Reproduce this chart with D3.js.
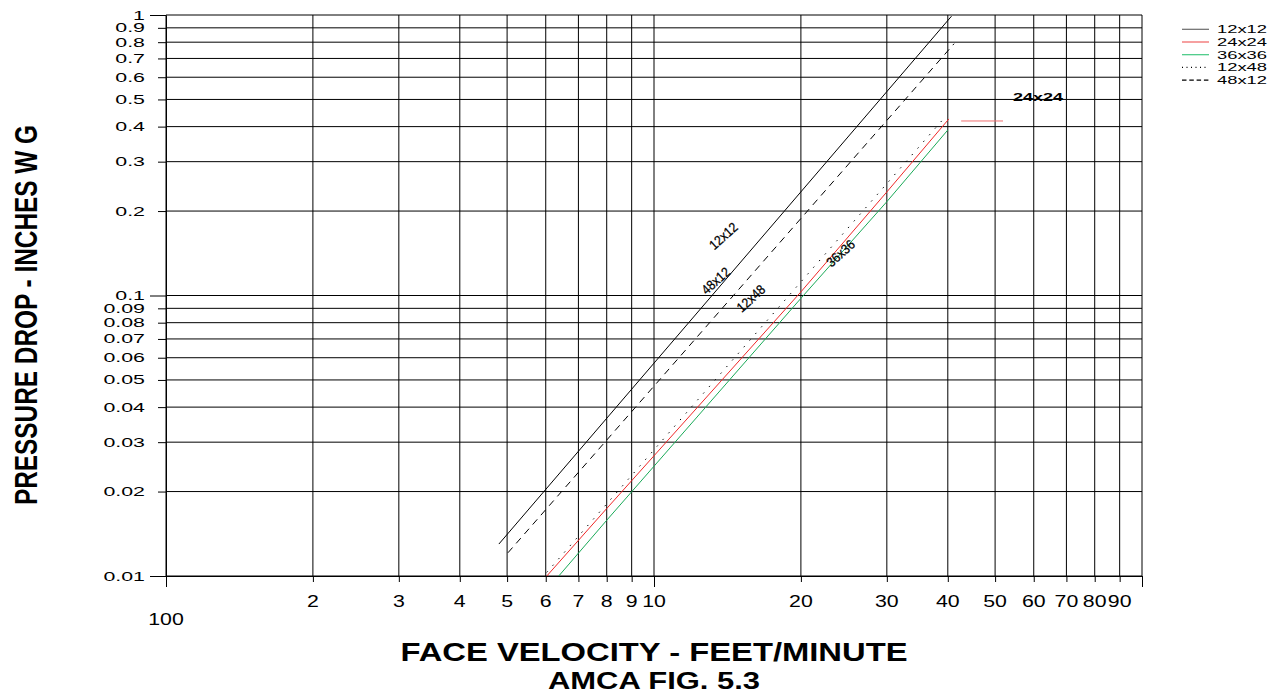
<!DOCTYPE html>
<html><head><meta charset="utf-8">
<script src="https://cdn.jsdelivr.net/npm/d3@7"></script>
<style>
body{margin:0;background:#fff;}
svg{display:block;}
text{font-family:"Liberation Sans",Arial,Helvetica,sans-serif;fill:#000;}
</style>
</head><body>
<svg id="c" width="1279" height="694"></svg>
<script>
// ---------- data ----------
const xTickValues=[1,2,3,4,5,6,7,8,9,10,20,30,40,50,60,70,80,90,100];
const xTickLabels=["100","2","3","4","5","6","7","8","9","10","20","30","40","50","60","70","80","90",""];
const yTickValues=[0.01,0.02,0.03,0.04,0.05,0.06,0.07,0.08,0.09,0.1,0.2,0.3,0.4,0.5,0.6,0.7,0.8,0.9,1];
const yTickLabels=["0.01","0.02","0.03","0.04","0.05","0.06","0.07","0.08","0.09","0.1","0.2","0.3","0.4","0.5","0.6","0.7","0.8","0.9","1"];

const seriesNames=["12x12","24x24","36x36","12x48","48x12"];
const v12x12=[4.81,40.7],              p12x12=[0.013,0.99];
const v24x24=[6.03,8,20,30,40.2],      p24x24=[0.01,0.0174,0.103,0.234,0.426];
const v36x36=[6.38,8,20,30,40],        p36x36=[0.01,0.0158,0.0977,0.216,0.389];
const v12x48=[6.03,39.5],              p12x48=[0.0103,0.433];
const v48x12=[5.02,41.2],              p48x12=[0.0121,0.79];

// in-plot line labels (velocity, pressure)
const lineLabelNames=["12x12","48x12","12x48","36x36"];
const lineLabelV=[13.87,13.38,15.79,24.13];
const lineLabelP=[0.163,0.1129,0.0977,0.1414];
// 24x24 annotation
const noteText="24x24", noteV=61.2, noteP=0.506;
const noteLeaderV=[42.6,51.9], noteLeaderP=0.419;

// ---------- setup ----------
const svg=d3.select("#c");
const L=166,R=1142,T=15,B=576;
const x=d3.scaleLog().domain([1,100]).range([L,R]);
const y=d3.scaleLog().domain([0.01,1]).range([B,T]);

function stretch(sel,f){
  sel.each(function(){
    const len=this.getComputedTextLength();
    d3.select(this).attr("textLength",len*f).attr("lengthAdjust","spacingAndGlyphs");
  });
}

// gridlines
const grid=svg.append("g").attr("stroke","#000").attr("stroke-width",1);
grid.selectAll("line.h").data(yTickValues).join("line").attr("class","h")
  .attr("x1",L).attr("x2",R).attr("y1",d=>y(d)).attr("y2",d=>y(d));
grid.selectAll("line.v").data(xTickValues).join("line").attr("class","v")
  .attr("x1",d=>x(d)).attr("x2",d=>x(d)).attr("y1",T).attr("y2",B);

// axes (ticks)
const isMajorY=d=>[0.01,0.1,1].includes(d);
const isMajorX=d=>[1,10,100].includes(d);
const yAxis=svg.append("g").attr("transform",`translate(${L},0)`)
  .call(d3.axisLeft(y).tickValues(yTickValues).tickFormat("").tickSizeOuter(0).tickSizeInner(8));
yAxis.select(".domain").attr("stroke","#000");
yAxis.selectAll(".tick line").attr("stroke","#000").attr("x2",d=>isMajorY(d)?-16:-8);
const xAxis=svg.append("g").attr("transform",`translate(0,${B})`)
  .call(d3.axisBottom(x).tickValues(xTickValues).tickFormat("").tickSizeOuter(0).tickSizeInner(6));
xAxis.select(".domain").attr("stroke","#000");
xAxis.selectAll(".tick line").attr("stroke","#000").attr("y2",d=>isMajorX(d)?11:6);

// y tick labels
const yl=svg.append("g").selectAll("text").data(yTickValues).join("text")
  .attr("x",145).attr("y",d=>y(d)+4.5).attr("text-anchor","end")
  .attr("font-size",13.5).text((d,i)=>yTickLabels[i]);
stretch(yl,1.58);

// x tick labels
const xl=svg.append("g").selectAll("text").data(xTickValues).join("text")
  .attr("x",d=>x(d)).attr("y",(d,i)=>i===0?625:607).attr("text-anchor","middle")
  .attr("font-size",16).text((d,i)=>xTickLabels[i]);
stretch(xl.filter((d,i)=>xTickLabels[i]!==""),1.33);

// ---------- series ----------
const line=d3.line().x(d=>x(d[0])).y(d=>y(d[1]));
const zip=(v,p)=>v.map((d,i)=>[d,p[i]]);
const seriesData=[zip(v12x12,p12x12),zip(v24x24,p24x24),zip(v36x36,p36x36),zip(v12x48,p12x48),zip(v48x12,p48x12)];
const seriesColor=["#000","#f02828","#1aaa58","#000","#000"];
const seriesDash=[null,null,null,"1.4,7.4","7,5.5"];
svg.append("g").selectAll("path").data(seriesData).join("path")
  .attr("d",line).attr("fill","none")
  .attr("stroke",(d,i)=>seriesColor[i]).attr("stroke-width",1)
  .attr("stroke-dasharray",(d,i)=>seriesDash[i]);

// line labels
svg.append("g").selectAll("text").data(lineLabelNames).join("text")
  .attr("transform",(d,i)=>`translate(${x(lineLabelV[i])},${y(lineLabelP[i])}) rotate(-42)`)
  .attr("text-anchor","middle").attr("dy","0.35em").attr("font-size",13.5)
  .attr("textLength",33).attr("lengthAdjust","spacingAndGlyphs")
  .attr("stroke","#000").attr("stroke-width",0.25).text(d=>d);

// 24x24 annotation
svg.append("line").attr("x1",x(noteLeaderV[0])).attr("x2",x(noteLeaderV[1]))
  .attr("y1",y(noteLeaderP)).attr("y2",y(noteLeaderP)).attr("stroke","#f07070").attr("stroke-width",1);
svg.append("text").attr("x",x(noteV)).attr("y",y(noteP)+3.5).attr("text-anchor","middle")
  .attr("font-size",10).attr("font-weight","bold").attr("fill","#222").attr("textLength",50)
  .attr("lengthAdjust","spacingAndGlyphs").text(noteText);

// ---------- legend ----------
const legColor=["#6a6a6a","#f06060","#40c880","#000","#000"];
const legDash=[null,null,null,"1,3.5","4.5,2.8"];
const leg=svg.append("g").selectAll("g").data(seriesNames).join("g")
  .attr("transform",(d,i)=>`translate(1182,${29.3+i*12.7})`);
leg.append("line").attr("x1",0).attr("x2",27).attr("y1",0).attr("y2",0)
  .attr("stroke",(d,i)=>legColor[i]).attr("stroke-width",1.2)
  .attr("stroke-dasharray",(d,i)=>legDash[i]);
leg.append("text").attr("x",35).attr("y",4).attr("font-size",11)
  .attr("textLength",50).attr("lengthAdjust","spacingAndGlyphs").text(d=>d);

// ---------- titles ----------
svg.append("text").attr("transform","translate(37,315) rotate(-90)")
  .attr("text-anchor","middle").attr("font-size",31).attr("font-weight","bold")
  .style("font-family",'"Liberation Sans Narrow","Arial Narrow","Liberation Sans",Arial,sans-serif')
  .attr("textLength",380).attr("lengthAdjust","spacingAndGlyphs")
  .text("PRESSURE DROP - INCHES W G");
svg.append("text").attr("x",654).attr("y",661).attr("text-anchor","middle")
  .attr("font-size",25).attr("font-weight","bold")
  .attr("textLength",507).attr("lengthAdjust","spacingAndGlyphs")
  .text("FACE VELOCITY - FEET/MINUTE");
svg.append("text").attr("x",654).attr("y",689).attr("text-anchor","middle")
  .attr("font-size",24).attr("font-weight","bold")
  .attr("textLength",212).attr("lengthAdjust","spacingAndGlyphs")
  .text("AMCA FIG. 5.3");
</script>
</body></html>
